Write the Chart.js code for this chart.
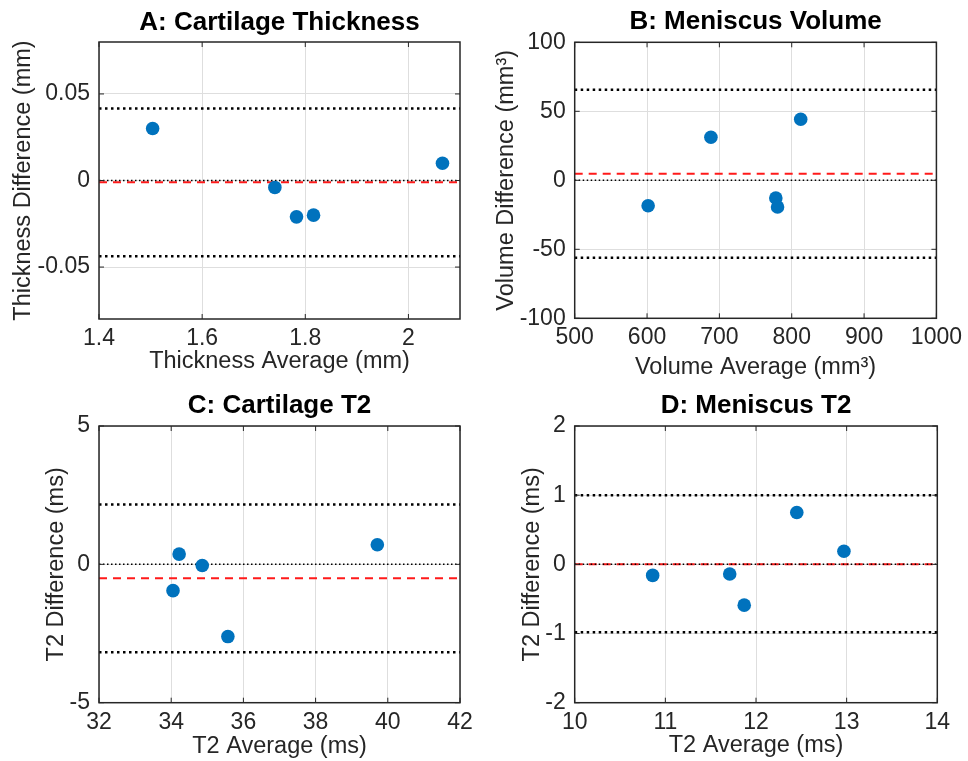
<!DOCTYPE html>
<html>
<head>
<meta charset="utf-8">
<title>Bland-Altman plots</title>
<script src="https://cdn.jsdelivr.net/npm/chart.js@4.4.1/dist/chart.umd.min.js"></script>
<style>
    body { margin: 0; background: #ffffff; }
    .panel { position: absolute; }
</style>
</head>
<body>
<div class="panel" style="left:0px;top:0px;width:484px;height:390px"><canvas id="chartA"></canvas></div>
<div class="panel" style="left:484px;top:0px;width:484px;height:390px"><canvas id="chartB"></canvas></div>
<div class="panel" style="left:0px;top:380px;width:484px;height:381px"><canvas id="chartC"></canvas></div>
<div class="panel" style="left:484px;top:380px;width:484px;height:381px"><canvas id="chartD"></canvas></div>
<script>
// A: cartilage thickness (mm)
const thickAvg  = [1.504, 1.741, 1.783, 1.816, 2.066];
const thickDiff = [0.030, -0.004, -0.021, -0.020, 0.010];
const thickMean = -0.001;            // red dashed line
const thickLoA  = [0.0416, -0.0437]; // limits of agreement
const thickXRange = [1.4, 2.1];
const thickYRange = [-0.08, 0.08];
const thickXTicks = [1.4, 1.6, 1.8, 2];
const thickYTicks = [-0.05, 0, 0.05];

// B: meniscus volume (mm3)
const volAvg  = [601.5, 688.3, 778.0, 780.4, 812.4];
const volDiff = [-18.4, 31.2, -12.8, -19.3, 44.2];
const volMean = 4.8;
const volLoA  = [65.6, -56.1];
const volXRange = [500, 1000];
const volYRange = [-100, 100];
const volXTicks = [500, 600, 700, 800, 900, 1000];
const volYTicks = [-100, -50, 0, 50, 100];

// C: cartilage T2 (ms)
const cartT2Avg  = [34.05, 34.22, 34.86, 35.57, 39.71];
const cartT2Diff = [-0.95, 0.37, -0.04, -2.61, 0.71];
const cartT2Mean = -0.50;
const cartT2LoA  = [2.16, -3.18];
const cartT2XRange = [32, 42];
const cartT2YRange = [-5, 5];
const cartT2XTicks = [32, 34, 36, 38, 40, 42];
const cartT2YTicks = [-5, 0, 5];

// D: meniscus T2 (ms)
const menT2Avg  = [10.86, 11.71, 11.87, 12.45, 12.97];
const menT2Diff = [-0.16, -0.14, -0.59, 0.75, 0.19];
const menT2Mean = 0.0;
const menT2LoA  = [1.0, -0.98];
const menT2XRange = [10, 14];
const menT2YRange = [-2, 2];
const menT2XTicks = [10, 11, 12, 13, 14];
const menT2YTicks = [-2, -1, 0, 1, 2];

const FONT = "'Liberation Sans', Arial, Helvetica, sans-serif";
const AXIS_COLOR = '#262626';
const GRID_COLOR = '#dedede';

// matlab style box round the axes, with small inward tick marks
const boxPlugin = {
    id: 'box',
    afterDatasetsDraw(chart) {
        const {ctx, chartArea: a, scales} = chart;
        ctx.save();
        ctx.strokeStyle = AXIS_COLOR;
        ctx.lineWidth = 1;
        scales.x.ticks.forEach(t => {
            const px = scales.x.getPixelForValue(t.value);
            ctx.beginPath();
            ctx.moveTo(px, a.bottom); ctx.lineTo(px, a.bottom - 5);
            ctx.moveTo(px, a.top); ctx.lineTo(px, a.top + 5);
            ctx.stroke();
        });
        scales.y.ticks.forEach(t => {
            const py = scales.y.getPixelForValue(t.value);
            ctx.beginPath();
            ctx.moveTo(a.left, py); ctx.lineTo(a.left + 5, py);
            ctx.moveTo(a.right, py); ctx.lineTo(a.right - 5, py);
            ctx.stroke();
        });
        ctx.lineWidth = 1.5;
        ctx.strokeRect(a.left, a.top, a.right - a.left, a.bottom - a.top);
        ctx.restore();
    }
};

function hLine(y, xr) {
    return [{x: xr[0], y: y}, {x: xr[1], y: y}];
}

function makePanel(p) {
    const L = p.layout;
    new Chart(document.getElementById(p.id), {
        type: 'scatter',
        data: {
            datasets: [
                {   // measurements
                    data: p.avg.map((v, i) => ({x: v, y: p.diff[i]})),
                    backgroundColor: '#0072BD',
                    borderWidth: 0,
                    pointRadius: 6.8,
                    order: 0
                },
                {   // zero line
                    data: hLine(0, p.xRange),
                    showLine: true, pointRadius: 0,
                    borderColor: '#000000', borderWidth: 1.5, borderDash: [1.5, 2.5],
                    order: 1
                },
                {   // mean difference
                    data: hLine(p.mean, p.xRange),
                    showLine: true, pointRadius: 0,
                    borderColor: '#ff1a1a', borderWidth: 2, borderDash: [8, 6],
                    order: 2
                },
                {   // upper limit
                    data: hLine(p.loa[0], p.xRange),
                    showLine: true, pointRadius: 0,
                    borderColor: '#000000', borderWidth: 2.5, borderDash: [2.5, 3.5],
                    order: 3
                },
                {   // lower limit
                    data: hLine(p.loa[1], p.xRange),
                    showLine: true, pointRadius: 0,
                    borderColor: '#000000', borderWidth: 2.5, borderDash: [2.5, 3.5],
                    order: 3
                }
            ]
        },
        options: {
            responsive: true,
            maintainAspectRatio: false,
            animation: false,
            events: [],
            layout: { padding: { left: 0, right: L.right, top: 0, bottom: 0 } },
            scales: {
                x: {
                    type: 'linear',
                    min: p.xRange[0],
                    max: p.xRange[1],
                    afterBuildTicks: s => { s.ticks = p.xTicks.map(v => ({value: v})); },
                    afterFit: s => { s.height = L.xHeight; },
                    grid: { color: GRID_COLOR, drawTicks: false },
                    border: { display: false },
                    ticks: {
                        padding: 6,
                        color: AXIS_COLOR,
                        maxRotation: 0,
                        font: { family: FONT, size: 23 },
                        callback: v => String(v)
                    },
                    title: {
                        display: true,
                        text: p.xLabel,
                        color: AXIS_COLOR,
                        padding: { top: 0, bottom: L.xTitlePad },
                        font: { family: FONT, size: 23.5 }
                    }
                },
                y: {
                    type: 'linear',
                    min: p.yRange[0],
                    max: p.yRange[1],
                    afterBuildTicks: s => { s.ticks = p.yTicks.map(v => ({value: v})); },
                    afterFit: s => { s.width = L.yWidth; },
                    grid: { color: GRID_COLOR, drawTicks: false },
                    border: { display: false },
                    ticks: {
                        padding: 9,
                        color: AXIS_COLOR,
                        font: { family: FONT, size: 23 },
                        callback: v => String(v)
                    },
                    title: {
                        display: true,
                        text: p.yLabel,
                        color: AXIS_COLOR,
                        padding: { top: L.yTitlePad, bottom: 0 },
                        font: { family: FONT, size: 23.5 }
                    }
                }
            },
            plugins: {
                legend: { display: false },
                tooltip: { enabled: false },
                title: {
                    display: true,
                    text: p.title,
                    fullSize: false,
                    color: '#000000',
                    padding: { top: L.titleTop, bottom: L.titleBottom },
                    font: { family: FONT, size: 26, weight: 'bold', lineHeight: 1.2 }
                }
            }
        },
        plugins: [boxPlugin]
    });
}

const panels = [
    {
        id: 'chartA', title: 'A: Cartilage Thickness',
        xLabel: 'Thickness Average (mm)', yLabel: 'Thickness Difference (mm)',
        avg: thickAvg, diff: thickDiff, mean: thickMean, loa: thickLoA,
        xRange: thickXRange, yRange: thickYRange, xTicks: thickXTicks, yTicks: thickYTicks,
        layout: { yWidth: 99, xHeight: 71, right: 24, titleTop: 7.7, titleBottom: 3.1, yTitlePad: 9.5, xTitlePad: 14 }
    },
    {
        id: 'chartB', title: 'B: Meniscus Volume',
        xLabel: 'Volume Average (mm\u00B3)', yLabel: 'Volume Difference (mm\u00B3)',
        avg: volAvg, diff: volDiff, mean: volMean, loa: volLoA,
        xRange: volXRange, yRange: volYRange, xTicks: volXTicks, yTicks: volYTicks,
        layout: { yWidth: 90.7, xHeight: 71.7, right: 30.7, titleTop: 6.4, titleBottom: 4.7, yTitlePad: 8.5, xTitlePad: 8 }
    },
    {
        id: 'chartC', title: 'C: Cartilage T2',
        xLabel: 'T2 Average (ms)', yLabel: 'T2 Difference (ms)',
        avg: cartT2Avg, diff: cartT2Diff, mean: cartT2Mean, loa: cartT2LoA,
        xRange: cartT2XRange, yRange: cartT2YRange, xTicks: cartT2XTicks, yTicks: cartT2YTicks,
        layout: { yWidth: 99, xHeight: 58.3, right: 24, titleTop: 10.6, titleBottom: 4.2, yTitlePad: 42, xTitlePad: 0.5 }
    },
    {
        id: 'chartD', title: 'D: Meniscus T2',
        xLabel: 'T2 Average (ms)', yLabel: 'T2 Difference (ms)',
        avg: menT2Avg, diff: menT2Diff, mean: menT2Mean, loa: menT2LoA,
        xRange: menT2XRange, yRange: menT2YRange, xTicks: menT2XTicks, yTicks: menT2YTicks,
        layout: { yWidth: 90.7, xHeight: 58.3, right: 30.7, titleTop: 10.6, titleBottom: 4.2, yTitlePad: 34, xTitlePad: 1.2 }
    }
];

panels.forEach(makePanel);
</script>
</body>
</html>
